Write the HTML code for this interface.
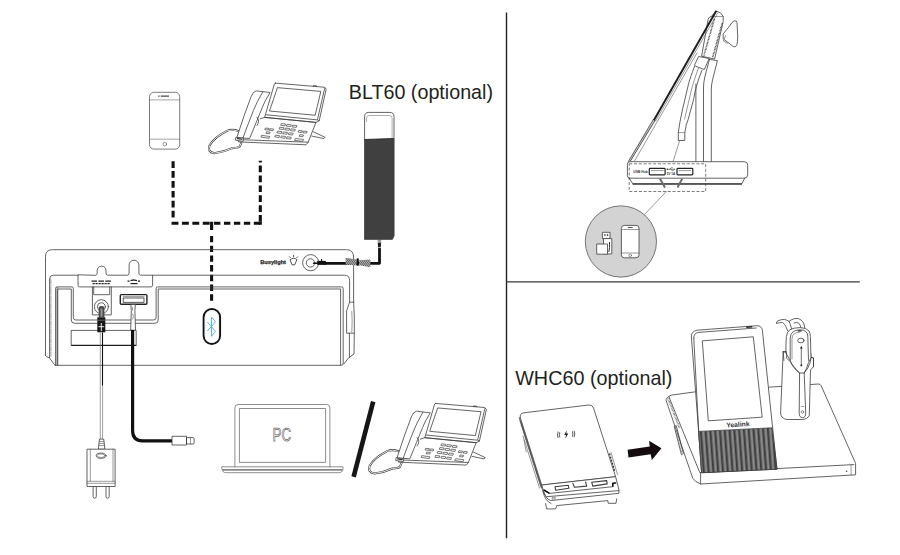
<!DOCTYPE html>
<html lang="en">
<head>
<meta charset="utf-8">
<title>W80 connection diagram</title>
<style>
html,body{margin:0;padding:0;background:#fff;}
body{width:900px;height:555px;overflow:hidden;font-family:"Liberation Sans",sans-serif;}
svg{display:block;}
.l{fill:none;stroke:#3c3c3c;stroke-width:.8;stroke-linecap:round;stroke-linejoin:round;}
.lt{fill:none;stroke:#555;stroke-width:.6;stroke-linecap:round;stroke-linejoin:round;}
.w{fill:#fff;stroke:#3c3c3c;stroke-width:.8;stroke-linejoin:round;}
.k{fill:none;stroke:#111;stroke-linecap:butt;stroke-linejoin:round;}
.dash{fill:none;stroke:#111;stroke-width:3.1;stroke-dasharray:6.7 3.2;}
text{font-family:"Liberation Sans",sans-serif;}
</style>
</head>
<body>
<svg width="900" height="555" viewBox="0 0 900 555">
<defs>
<pattern id="hatch" width="1.6" height="1.6" patternUnits="userSpaceOnUse" patternTransform="rotate(35)">
<rect width="1.6" height="1.6" fill="#bbb"/><rect width=".8" height="1.6" fill="#555"/>
</pattern>
<pattern id="grill" width="4.8" height="3" patternUnits="userSpaceOnUse" patternTransform="translate(700 432) skewX(4.2)">
<rect width="4.8" height="3" fill="#767676"/><rect x="0" width="1.700" height="3" fill="#3c3c3c"/><rect x="3" width=".6" height="3" fill="#9c9c9c"/>
</pattern>
<!-- desk phone, drawn in absolute coords of the top instance -->
<g id="phone">
<g transform="translate(199.8 74.7) scale(0.16223)" fill="none" stroke="#3a3a3a" stroke-width="4.800" stroke-linejoin="round" stroke-linecap="round">
<!-- cord -->
<path d="M236 347Q200 333 168 346Q88 386 60 436Q44 476 90 484Q148 477 200 453Q236 451 246 443L256 420" stroke-width="12.500"/>
<path d="M236 347Q200 333 168 346Q88 386 60 436Q44 476 90 484Q148 477 200 453Q236 451 246 443L256 420" stroke="#fff" stroke-width="5.500"/>
<!-- base -->
<path d="M372 272L399 263L716 294L668 416L655 432L238 414L240 400" fill="#fff"/>
<path d="M240 400L668 416"/>
<path d="M700 352L772 386L765 394L690 378"/>
<!-- handset -->
<path d="M345 100Q328 104 316 136Q272 250 228 388L307 393Q350 290 386 200Q402 158 432 112Z" fill="#fff"/>
<path d="M388 106Q350 170 330 222Q295 310 266 390"/>
<path d="M352 262Q374 286 352 314"/>
<path d="M225 386L270 392L267 411L222 404Z" fill="#fff"/>
<path d="M232 394l28 4" stroke="#222" stroke-width="7"/>
<!-- screen -->
<path d="M736 284L779 89L770 78" />
<path d="M405 246L399 263L716 294L736 284L725 278"/>
<path d="M466 52L766 77Q771 78 770 83L726 274Q725 279 720 278L410 247Q404 246 406 241L460 56Q462 52 466 52Z" fill="#fff"/>
<path d="M481 80L746 103L711 250L432 224Z"/>
<path d="M700 68l20 2" stroke="#222" stroke-width="5"/>
<!-- keys -->
<path d="M505 301L529 304L525 315L501 312ZM540 306L564 309L560 320L536 317ZM575 311L599 314L595 325L571 322ZM495 324L519 327L515 338L491 335ZM530 329L554 332L550 343L526 340ZM565 334L589 337L585 348L561 345ZM482 348L506 351L502 362L478 359ZM517 353L541 356L537 367L513 364ZM552 358L576 361L572 372L548 369ZM468 373L492 376L488 387L464 384ZM505 378L529 381L525 392L501 389ZM540 383L564 386L560 397L536 394ZM407 329L427 331L423 341L403 339ZM435 333L455 335L451 345L431 343ZM414 352L434 354L430 364L410 362ZM612 344L632 346L628 356L608 354ZM642 348L662 350L658 360L638 358ZM619 370L639 372L635 382L615 380ZM383 374L431 381L427 392L379 385ZM592 393L640 399L634 411L586 405Z" stroke-width="4.200"/>
</g>
</g>
</defs>

<!-- ===== dividers ===== -->
<line x1="506.5" y1="12.4" x2="506.5" y2="538.2" stroke="#222" stroke-width="1.4"/>
<line x1="506.5" y1="281.8" x2="859.8" y2="281.8" stroke="#3a3a3a" stroke-width="1.3"/>

<!-- ===== smartphone (top-left) ===== -->
<g id="smartphone">
<rect class="w" style="stroke:#5a5a5a" x="149.500" y="92.300" width="30.200" height="56.800" rx="4.400"/>
<path class="lt" style="stroke:#666" d="M149.500 99.900H179.700M149.500 139.200H179.700"/>
<circle class="lt" cx="164.800" cy="144.100" r="1.800"/>
<path d="M158.200 96.100h1.400M160.800 96.100h8.200" stroke="#444" stroke-width="1.300" fill="none"/>
</g>

<!-- ===== dashed bluetooth links ===== -->
<path class="dash" d="M173.100 161.200V219"/>
<path class="dash" d="M260.300 160.800V221.800" stroke-dashoffset="5.100"/>
<path class="dash" d="M171.550 223.300H210" style="stroke-dasharray:6.9 3.5"/>
<path class="dash" d="M260.200 223.300H213.500" style="stroke-dasharray:6.4 3.55"/>
<path d="M258.750 221.700h3.100v3.150h-3.100zM210.050 221.750h3.100v8.200h-3.100z" fill="#111"/>
<path class="dash" d="M211.600 300.700V235.500" style="stroke-dasharray:6.4 3.33"/>

<!--LEFT-START-->
<!-- ===== W80 base (rear view) ===== -->
<g id="base">
<!-- outer shell -->
<path class="l" d="M45.5 355.6V256.5Q45.5 249.7 52.5 249.7H346.4Q353.6 249.7 353.6 257V301Q354.700 317 354.300 333.200L354 354L348.8 357.6L343.8 364"/>
<path class="l" d="M45.5 355.6Q46 357 49.4 357.8L55 365.3"/>
<!-- second contour -->
<path class="l" d="M49.6 357.8V279Q49.6 275.2 53.5 275.2H78M152.600 275.2H344.4Q349.6 275.2 349.600 280.500V302.200M349.400 333.200V357.400"/>
<path class="lt" d="M50.9 279V356" stroke-dasharray="5 1.2 1 1.2"/>
<!-- label tab with key-hole bumps -->
<path class="l" d="M78 275.200V285.300Q78 286.900 79.600 286.900H151Q152.600 286.900 152.600 285.300V275.200H140.400Q138.900 274.800 138.900 273V265.100A4.900 4.900 0 0 0 129.100 265.100V273Q129.100 274.800 127.600 275.200H107.400Q106 274.800 106 273.200V270.500A4.400 4.400 0 0 0 97.200 270.500V273.200Q97.200 274.800 95.800 275.200Z"/>
<!-- tiny port legends -->
<g stroke="#222" stroke-width="1.200" fill="none">
<path d="M91.5 281.2h5.600M98.400 281.200h5.600M105.300 281.200h5.600"/>
<path d="M92.500 283.600h17.500" stroke-dasharray="2.200 .8"/>
<path d="M127.500 281.200h2M130.500 280.600l3-.8 3.500 .8M138 281.200h2"/>
<path d="M130.500 283.600h7"/>
</g>
<!-- front panel with pocket : double line -->
<path d="M55.800 287h2.900v78.300h-2.900z" fill="#c4c4c4" stroke="none"/>
<path class="l" d="M55.600 365.300V288.400Q55.600 286.900 57.100 286.900H71.800Q73.300 286.900 73.300 288.400V317.500Q73.300 320 75.800 320H153.600Q156.100 320 156.100 317.500V288.400Q156.100 286.900 157.600 286.900H341.600Q343.200 286.900 343.200 288.500V363.300Q343.200 365.300 341.200 365.300H55.600"/>
<path class="l" d="M57.400 365.300V289H71.300V320Q71.300 323.300 74.600 323.300H154.900Q158.200 323.300 158.200 320V289H340.600V364.800"/>
<!-- lower label recess -->
<path class="l" d="M71.200 345.400V330.400H136.200V345.400"/>
<path d="M71.200 345.400H136.200" stroke="#222" stroke-width="1.300" fill="none"/>
<!-- right side clip -->
<path class="l" d="M353.800 302.200H349.600L346.600 310.800V333.200H354.200"/>
<path class="lt" d="M351.800 311.500Q352.500 322 351.800 332"/>
<!-- DC jack -->
<path class="l" d="M92.400 286.900V314.900H111.300V286.900M93.700 286.900V294.700H109.700V286.900"/>
<circle class="l" cx="101.400" cy="306.700" r="7"/>
<circle class="l" cx="101.400" cy="306.700" r="4"/>
<!-- USB-A port -->
<rect x="120.300" y="294.600" width="26.600" height="9.700" rx="1" fill="#fff" stroke="#222" stroke-width="1.400"/>
<rect x="123.200" y="298" width="20.800" height="4.300" fill="#fff" stroke="#333" stroke-width=".8"/>
<path class="lt" d="M123.200 296.600H144"/>
<!-- busylight jack + legend -->
<text x="260.200" y="263.900" font-size="5.800" font-weight="700" fill="#2a2a2a" stroke="#2a2a2a" stroke-width=".25" textLength="25.800" lengthAdjust="spacingAndGlyphs">Busylight</text>
<g class="l" style="stroke-width:.9">
<path d="M290.300 259.600Q293.600 256.700 296.900 259.600L294.700 264.800H292.500Z"/>
<path d="M293.600 255.400v1.300M289.500 256.700l.9 .9M297.700 256.700l-.9 .9"/>
</g>
<circle class="l" cx="310.700" cy="262.700" r="8.100"/>
<circle class="l" cx="310.500" cy="262.900" r="4.200"/>
</g>

<!-- bluetooth button -->
<rect x="203.600" y="309" width="16.500" height="35" rx="8.250" fill="#fff" stroke="#111" stroke-width="1.900"/>
<rect x="205.300" y="310.700" width="13.100" height="31.600" rx="6.500" fill="none" stroke="#e2f0f7" stroke-width=".8"/>
<path d="M207.300 322.200L215.500 331.200L211.500 336.300V317L215.500 321.800L207.300 331" fill="none" stroke="#49add9" stroke-width=".9" stroke-linejoin="round"/>

<!-- busylight cable -->
<path class="k" stroke-width="2.800" d="M324 263.300H379.500V247.500"/>
<path d="M317.200 260.900h8.600v4h-8.600z" fill="#111"/>
<path d="M313.600 263.200H318" stroke="#111" stroke-width="1.600" stroke-linecap="round" fill="none"/>
<path d="M321 259h1.100v2h-1.100z" fill="#111"/>
<path d="M377.600 239.300h3.600v3.400h-3.600z" fill="#9a9a9a"/>
<path d="M377.800 242.700h3.300l-.3 4.300h-2.700z" fill="#1a1a1a"/>
<path d="M378 247.600h3" stroke="#bbb" stroke-width=".9"/>
<path d="M345.600 257.800L356.800 259.600V265.400L345.600 264.600Z" fill="url(#hatch)"/>
<path d="M358.900 260.300L370.400 259.600L370.400 267.200L358.900 265.200Z" fill="url(#hatch)"/>
<rect x="356.700" y="258.400" width="2.100" height="7.300" fill="#111"/>

<!-- BLT60 busylight -->
<g id="blt60">
<path d="M364.600 239.300V116.500Q364.600 112.400 368.800 112.400H389.800Q394 112.400 394 116.500V236L392.400 239.300Z" fill="#fff" stroke="#3c3c3c" stroke-width=".8"/>
<path d="M366.500 122V118.300Q366.500 115.500 369.400 115.500H389.200Q392.100 115.500 392.100 118.300V138" fill="none" stroke="#8a8a8a" stroke-width=".7"/>
<path d="M364.400 139.500L394.200 138.500V235.800L392.400 239.500H364.400Z" fill="#404040"/>
<path d="M364.600 139.500L394 138.500" stroke="#222" stroke-width=".9" fill="none"/>
</g>
<text x="348.800" y="98.600" font-size="19.900" fill="#231f20" textLength="144.200" lengthAdjust="spacingAndGlyphs">BLT60 (optional)</text>

<!-- power plug + cable + charger -->
<path d="M98.700 308.200Q98.700 306 101.500 306Q104.400 306 104.400 308.200V317.300H98.700Z" fill="#4a4a4a"/>
<path d="M100.600 308.500h1.900v8h-1.900z" fill="#9a9a9a"/>
<path d="M97.300 317.300h8v15h-8z" fill="#151515"/>
<path d="M98.400 326.700h5.800M101.300 322.900v8.300" stroke="#fff" stroke-width=".9"/>
<path d="M97.300 320.200h8" stroke="#aaa" stroke-width=".5"/>
<path d="M100.300 332.400V439" stroke="#777" stroke-width=".7" fill="none"/>
<path d="M102.600 385.600V439" stroke="#777" stroke-width=".7" fill="none"/>
<path d="M102.500 332.400V385.600" stroke="#111" stroke-width="1.100" fill="none"/>
<g id="charger">
<path class="w" d="M99.500 439.100h4.200l1.200 10.100h-6.600z"/>
<path class="lt" d="M99.200 441.500h4.800M99 443.500h5.200M98.800 445.500h5.600"/>
<path class="w" d="M93.100 486.400V496.600a1.600 1.600 0 0 0 3.200 0V486.400ZM106 486.400V496.600a1.600 1.600 0 0 0 3.200 0V486.400Z"/>
<rect class="w" x="87" y="449.200" width="28.100" height="37.300"/>
<path class="lt" d="M90.300 449.200V481.300M113 449.200V481.300M87 481.300H115.100M87 483.300H115.100"/>
<ellipse class="l" cx="101.100" cy="455.700" rx="4.900" ry="2.600"/>
<ellipse class="lt" cx="101.100" cy="455.700" rx="3.900" ry="1.800"/>
</g>

<!-- USB cable to PC / phone -->
<path class="w" d="M130.800 304.400h4.600l-.5 6 .6 19.800h-4.800l.6-19.800z"/>
<path class="lt" d="M132.400 307.500v3M132.800 314q1.400 2 0 5"/>
<path class="k" stroke-width="3.200" d="M132.600 330V430.800Q132.600 440.800 142.600 440.800H172"/>
<path class="w" d="M172 436.300H186.500V445H172ZM186.500 437.600H193Q194.100 437.600 194.100 438.700V442.900Q194.100 444 193 444H186.500Z"/>
<path class="lt" d="M190.500 437.600V444"/>

<!-- laptop -->
<g id="laptop">
<path class="l" style="stroke:#707070" d="M234.900 467V407.700Q234.900 404.500 238.100 404.500H326.700Q329.900 404.500 329.900 407.700V467"/>
<rect class="l" style="stroke:#707070" x="239.800" y="408.500" width="85.800" height="53.900"/>
<path class="l" style="stroke:#707070" d="M221.900 466.800H343V468.600Q343 472.700 338.300 472.700H226.600Q221.900 472.700 221.900 468.600Z"/>
<path d="M222.500 469.800H342.500" stroke="#5a5a5a" stroke-width="1.200" fill="none"/>
<text x="272.600" y="441" font-size="18" fill="#fff" stroke="#6a6a6a" stroke-width=".75" textLength="18.600" lengthAdjust="spacingAndGlyphs">PC</text>
</g>
<!-- slash -->
<path d="M373.200 401.600L353.600 476.800" stroke="#161616" stroke-width="4.600" fill="none"/>

<use href="#phone"/>
<use href="#phone" transform="translate(160.200 320.300)"/>
<!--LEFT-END-->

<!--RT-START-->
<!-- ===== right-top : side view with USB hub ===== -->
<g id="sideview">
<!-- post -->
<path class="l" d="M709.5 59.4L717.4 60.6Q714.500 72 712.500 80Q711.300 85 711.300 90V161.700M709.500 59.400Q706.500 70 704.600 78Q703.500 83 703.500 88V161.700"/>
<path class="l" d="M695.900 84V161.700"/>
<!-- boom arm -->
<path class="l" d="M694.600 66.200Q690.500 77 688.900 82.400L682.400 110Q679.500 123 678.300 132.600V140.500H684.800V132.600Q686 124 688.100 119.700L693.800 98.600Q695.300 87 701.900 70.300"/>
<path class="lt" d="M698.300 68.300Q693.500 82 691.400 90L684.600 119"/>
<path class="lt" d="M678.300 132.600H684.800"/>
<path class="lt" d="M679.700 140.500L673 161.700"/>
<!-- headset body -->
<path class="w" d="M701.600 56.200L708.100 19.500Q708.600 16.800 711.200 16.500L716.500 11.200Q721.500 12 723.200 16.500V21.600L714.600 59Z"/>
<path d="M714.400 18.800L703.900 55.500" stroke="#505050" stroke-width="1.600" stroke-dasharray=".9 .6" fill="none"/>
<path d="M722.300 23L712.500 57.800" stroke="#505050" stroke-width="1.600" stroke-dasharray=".9 .6" fill="none"/>
<path class="lt" d="M711.200 16.500L723 16.500"/>
<!-- ear hook -->
<path class="w" d="M723.200 33.900Q726.500 30 729.700 25.900Q732 21.500 734.200 20.800Q736.700 20.300 737 22.500L737.700 36Q737.800 42 736.900 44.700Q736 47.300 733.800 46.800Q731 45 729 43.200L723.200 38.900Z"/>
<path class="lt" d="M725.600 35.500L723.400 41.200L727.600 43.300"/>
<!-- clip -->
<path class="w" d="M698.600 56.500L709.200 58.500L704.300 69.500L695.400 66.200Q694.300 65.500 694.900 64.200Z"/>
<!-- screen edge -->
<path d="M654.300 119.800L629.400 161.400" stroke="#8a8a8a" stroke-width="1.700" stroke-dasharray=".6 .6" fill="none"/>
<path class="l" d="M653.500 119.300L628.500 161.300M655.200 120.300L630.200 161.400"/>
<path d="M716.300 10.800L653.900 120.300" stroke="#1c1c1c" stroke-width="1.900" fill="none"/>
<path class="lt" d="M717.800 12.800L655.800 120.800M697 53L634.400 161.200"/>
<!-- base -->
<path class="w" d="M627.400 164.200Q627.400 161.700 629.900 161.700H744.200Q747.700 161.700 747.700 165.200V174.700Q747.700 178.200 744.200 178.200H629.900Q627.400 178.200 627.400 175.700Z"/>
<path class="l" d="M629.300 178.200L632.800 183.800H741.800L744.700 178.200"/>
<path d="M632.600 183.900H742" stroke="#444" stroke-width="1.500" fill="none"/>
<!-- dashed callout -->
<path d="M629.200 163.800H705.700V191.500H629.200Z" fill="none" stroke="#444" stroke-width=".7" stroke-dasharray="3 1.800"/>
<path class="lt" d="M666.400 191.400L644.800 214.200"/>
<!-- ports -->
<rect x="649.300" y="168.400" width="15.800" height="6.400" rx=".8" fill="#fff" stroke="#222" stroke-width="1.200"/>
<rect x="677" y="168.400" width="15.800" height="6.400" rx=".8" fill="#fff" stroke="#222" stroke-width="1.200"/>
<path class="lt" d="M651.400 170.600H663M679.100 170.600H690.700"/>
<text x="633.300" y="172.600" font-size="4.200" font-weight="700" fill="#333" textLength="14.400" lengthAdjust="spacingAndGlyphs">USB Hub</text>
<path d="M667 169.300H674.500M669.500 169.300l1.800-1.500h1.500M670.800 169.300l1.500 1.300h1.400" stroke="#333" stroke-width=".6" fill="none"/>
<circle cx="667.300" cy="169.300" r=".8" fill="#333"/>
<path d="M675.400 169.300l-1.300-.8v1.600z" fill="#333"/>
<text x="666.700" y="175" font-size="3.400" font-weight="700" fill="#333" textLength="8.600" lengthAdjust="spacingAndGlyphs">5V 1A</text>
<path d="M659.800 178.600L665 187.500M682.300 178.600L677.500 187.500" stroke="#6a6a6a" stroke-width="2" fill="none"/>
</g>
<!-- callout bubble -->
<circle cx="620.900" cy="241.500" r="35.600" fill="#d3d3d3" stroke="#666" stroke-width=".9"/>
<rect class="w" x="621.400" y="225.400" width="17.600" height="32.400" rx="3"/>
<path class="lt" d="M621.400 229.500H639M621.400 253H639"/>
<circle class="lt" cx="630.200" cy="255.400" r="1.300"/>
<path d="M627.800 227.500h4.800" stroke="#444" stroke-width=".9"/>
<path class="w" d="M602.400 232.300H610V238.600H602.400Z"/>
<path d="M604.300 234h1.300v2h-1.300zM606.900 234h1.300v2h-1.300z" fill="#555"/>
<path class="w" d="M603.500 238.600H611.800V253.900H603.500Z"/>
<path d="M609.500 242Q610 248 608.800 252" stroke="#333" stroke-width="1" fill="none"/>
<path class="w" d="M596.700 244H607.500V254.200H596.700Z"/>
<!--RT-END-->

<!--RB-START-->
<!-- ===== right-bottom : WHC60 wireless charger + W80 dock ===== -->
<text x="515.200" y="384.700" font-size="20.200" fill="#231f20" textLength="157.200" lengthAdjust="spacingAndGlyphs">WHC60 (optional)</text>

<g id="whc60">
<!-- left thickness -->
<path class="l" d="M519.300 417.500L541.200 487.500M520.600 421.500L543 491.500Q544.500 495.500 546.700 496.700"/>
<path class="lt" d="M521.800 425L527.500 443M523 436L539.500 488"/>
<path d="M520 419.500L541.300 486.500" stroke="#666" stroke-width="2.200" stroke-dasharray=".7 .7" fill="none"/>
<path class="lt" d="M524 440L526.200 452"/>
<!-- top surface -->
<path class="w" d="M523.800 412.800L588.600 405Q592.400 404.500 593.500 408L615.600 476.700L541.700 485L520.400 418Q519.400 413.400 523.800 412.800Z"/>
<!-- tray -->
<path class="w" d="M541.700 485L615.600 476.700L618.900 489.500V493.300L551 500.500Q546.500 499.500 544.400 493.300Z"/>
<path class="l" d="M543.900 490L549.500 493.400L612.800 486.700V483.300L616.100 482.800"/>
<path class="l" d="M546.700 496.700L618.900 490.600"/>
<path d="M543.900 490L549.500 493.400M612.800 486.700V483.300L615.800 482.900" stroke="#111" stroke-width="1.500" fill="none"/>
<path class="l" style="stroke-width:1.1" d="M555 486.700L568.300 485.300L568.900 488.300L555.600 490.200ZM591.700 482.200L606.700 480.600L607.200 483.900L592.800 486.100ZM572.800 483.400L574.400 487.200L586.700 486.100L585.600 482"/>
<path class="l" d="M545.600 503.500L546.600 508.900H555.700L556.700 505.600L607.800 500.600L608.200 503.300H616L616.700 498.900"/>
<path class="l" d="M543 491.500Q545 501 551 503.500"/>
<rect class="lt" x="552.600" y="497.300" width="2.600" height="1.800"/>
<!-- side buttons -->
<path d="M609.500 453.500L614.700 471.300" stroke="#333" stroke-width="1.300" stroke-dasharray="2 1.200" fill="none"/>
<path class="lt" d="M611 452.500L617.500 474.500"/>
<!-- qi icon -->
<g fill="none" stroke="#333" stroke-width=".8">
<path d="M559.800 432.200Q558.600 434.800 559.800 437.400M558.200 431.500Q556.600 434.800 558.200 438.100M572.400 431.400Q573.600 434 572.400 436.600M574 430.700Q575.600 434 574 437.300"/>
</g>
<path d="M566.800 430.300L564.200 435H566L565.200 438.800L568.300 433.500H566.400Z" fill="#222"/>
</g>

<!-- arrow -->
<path d="M627.600 449.800L649.700 446.600L649.100 440.800L661.400 448.200L651.900 460.100L650.600 454.300L628.500 457.600Z" fill="#140c0e"/>

<g id="dock">
<!-- slab -->
<path class="w" d="M665.900 399.800Q666.500 397.200 671 395.200L694.700 391.900L818.600 384Q820.400 384 821.200 385.800L854.700 461.300Q855.800 463.500 855.600 465V474.800L700.600 484Q695 482 692.700 478.100Z"/>
<path class="l" d="M668.900 396.800L699.800 472.600L853.800 464.600"/>
<path class="l" d="M700.600 472.600V484"/>
<path class="lt" d="M851.100 465V475"/>
<circle cx="846.600" cy="471.200" r=".8" fill="#444"/>
<path d="M668.200 398.500L679.500 428" stroke="#777" stroke-width="2" stroke-dasharray=".7 .7" fill="none"/>
<!-- side slot -->
<path class="l" d="M674.600 426.200L676.200 425.600L683.400 453.400L681.800 454.600Z"/>
<path d="M675.200 428L682 453" stroke="#888" stroke-width="1" stroke-dasharray=".8 .8" fill="none"/>
<!-- cradle (behind headset) -->
<path class="w" d="M783.200 351.600L780.600 413Q780.800 418.500 787 419.500H802Q808 419 809.300 415.300L810.500 370L813.500 366.700V357.900L811 357.300L810.500 352H783.200Z"/>
<!-- display unit -->
<path class="w" d="M691.400 337Q691 331.500 697 330.200L756.800 325.700Q761.600 325.500 762.400 330.500L777 469.200L701.600 472.600L698.700 431.900Z"/>
<path class="l" d="M693.800 338Q693.600 333 698.500 332.400L756.300 328"/>
<path class="l" d="M693.800 338L698.700 431.900L701.600 472.600"/>
<path class="l" d="M702.700 340.800L753.300 336.800L762.200 417.200L708.700 420.800Z"/>
<path d="M746.300 327.300L752.300 326.800" stroke="#222" stroke-width="1.400" fill="none"/>
<path d="M698.700 431.400L772 427.800L777 469.200L701.600 472.800Z" fill="url(#grill)" stroke="#333" stroke-width=".7"/>
<text x="726.500" y="427.400" font-size="6.800" font-weight="700" fill="#333" transform="rotate(-3.500 726.500 427.400)" textLength="23.200" lengthAdjust="spacingAndGlyphs">Yealink</text>
</g>

<g id="headset">
<!-- ear hook -->
<path class="l" d="M776.300 322.800Q776.500 321 779 320.400Q782 319.300 784.500 319.500Q787.500 320 789 321.500Q791 319.600 793.500 319Q796 318 798.500 318.600Q801.500 319.600 803.400 322.600Q804.500 325 804.700 327.700"/>
<path class="l" d="M776.600 323.400Q779.500 322.200 782.600 322.600Q785 324 786 326.800Q786.800 329 787.700 331"/>
<path class="l" d="M789 321.500Q790.200 323.500 790.800 326Q791.200 328 792 329.300M794 323Q796.500 321.800 798.600 323Q800.500 324.600 800.800 327.600"/>
<!-- boom -->
<path class="w" d="M799.600 372.500L799.200 413.100Q799.200 417.600 802.400 417.600Q805.700 417.600 805.700 413.100L804.200 372.500Z"/>
<circle class="lt" cx="802.400" cy="412" r="1.300"/>
<path class="lt" d="M801.300 406.500H803.600"/>
<!-- shell + face -->
<path class="w" d="M785.800 353Q785.900 343 786.400 336.500Q787 332 789.800 329.800Q794 327.500 800.300 327.600Q806.500 327.700 809 331Q810.300 333.500 810.400 336.500L811 357.900L808.500 362.500Q807 368 804.200 373H799.600Q792.500 368 790.200 360.400Z"/>
<path class="l" d="M790.200 360.400V338Q790.400 330.200 800 329.800Q807.600 330 807.800 336L808.500 360.400"/>
<path class="lt" d="M792 359V338.500Q792.200 332.200 800 332"/>
<ellipse class="l" cx="800.900" cy="340.500" rx="3.200" ry="2.300"/>
<path d="M801.300 347.500V365" stroke="#333" stroke-width=".7" fill="none"/>
<path d="M801.300 345.900l-1.400 2.500h2.800zM800.500 364.600h1.700v1.700h-1.700z" fill="#222"/>
<path d="M797.800 330.900h3.800" stroke="#333" stroke-width="1.300"/>
<!-- cradle front -->
<path class="l" d="M783.200 351.600H786.400Q786.800 356 786.500 358Q788.500 360 790.200 361.700Q793 366 799.600 373M811 357.300L813.500 357.900V366.700M811 358.500Q810.500 363 807.800 368L804.200 373"/>
<path class="l" d="M783.200 351.600L783.900 360.400"/>
</g>
<!--RB-END-->

</svg>
</body>
</html>
